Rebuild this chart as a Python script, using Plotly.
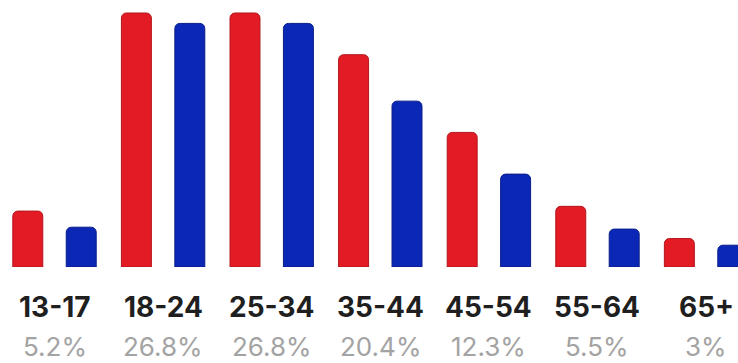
import plotly.graph_objects as go

# Age brackets and the share (%) shown under each bracket
age_groups = ["13-17", "18-24", "25-34", "35-44", "45-54", "55-64", "65+"]
share_labels = ["5.2%", "26.8%", "26.8%", "20.4%", "12.3%", "5.5%", "3%"]

# Paired series per bracket (percent of audience)
series_red = [5.9, 26.8, 26.8, 22.4, 14.2, 6.4, 3.0]
series_blue = [4.2, 25.7, 25.7, 17.5, 9.8, 4.0, 2.3]

RED = "#E21B24"
BLUE = "#0B27B6"
BAR_W = 0.276

fig = go.Figure()
fig.add_trace(go.Bar(
    x=age_groups, y=series_red, width=BAR_W, offset=-0.384,
    marker=dict(color=RED, line=dict(color="#B3161D", width=1)),
    hoverinfo="skip",
))
fig.add_trace(go.Bar(
    x=age_groups, y=series_blue, width=BAR_W, offset=0.108,
    marker=dict(color=BLUE, line=dict(color="#0A1E8A", width=1)),
    hoverinfo="skip",
))

# Two-row labels under each bracket: bold age range, grey share
for g, s in zip(age_groups, share_labels):
    fig.add_annotation(
        x=g, y=0, xref="x", yref="y", text=f"<b>{g}</b>",
        showarrow=False, yanchor="middle", yshift=-40, borderpad=0,
        font=dict(family="Inter", size=28, color="#1f1f1f"),
    )
    fig.add_annotation(
        x=g, y=0, xref="x", yref="y", text=s,
        showarrow=False, yanchor="middle", yshift=-79, borderpad=0,
        font=dict(family="Inter", size=26, color="#a3a3a3"),
    )

fig.update_layout(
    width=738, height=363,
    margin=dict(l=0, r=0, t=0, b=96),
    paper_bgcolor="white", plot_bgcolor="white",
    barmode="overlay", barcornerradius=5,
    showlegend=False,
    xaxis=dict(type="category", range=[-0.502, 6.294], showticklabels=False,
               showgrid=False, zeroline=False, showline=False, ticks=""),
    yaxis=dict(range=[0, 28.17], visible=False, showgrid=False, zeroline=False),
)

fig.write_html("out.html")
